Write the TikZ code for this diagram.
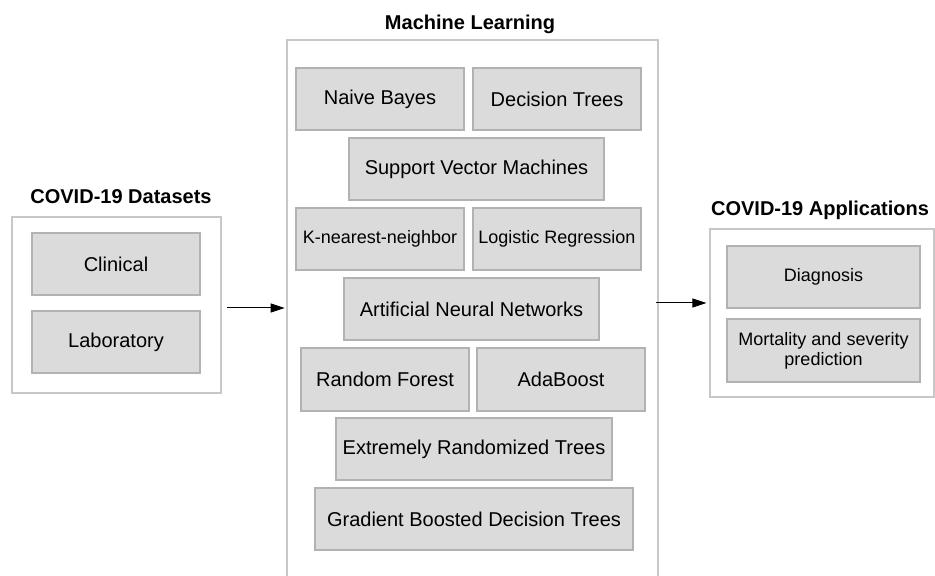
\documentclass[tikz,border=0pt]{standalone}
\usepackage{fontspec}
\setmainfont{Liberation Sans}
\usetikzlibrary{arrows.meta,calc}
\definecolor{boxfill}{RGB}{219,219,219}
\definecolor{boxline}{RGB}{178,178,178}
\definecolor{outline}{RGB}{200,200,200}
\tikzset{
  px/.style={x=0.5pt,y=-0.5pt},
  outerbox/.style={draw=outline,line width=0.6pt,fill=white,rectangle,inner sep=0pt},
  ibox/.style={draw=boxline,line width=0.6pt,fill=boxfill,rectangle,inner sep=0pt,
    minimum width=84pt,minimum height=31pt,font=\fontsize{10}{12}\selectfont,align=center},
  small/.style={font=\fontsize{9}{11}\selectfont},
  ttl/.style={font=\fontsize{10}{12}\selectfont\bfseries,inner sep=0pt},
  arr/.style={line width=0.5pt,-{Triangle[length=7pt,width=4.5pt]}}
}
\begin{document}
\begin{tikzpicture}[px]
\clip (0,0) rectangle (935,576);
\fill[white] (0,0) rectangle (935,576);
% left
\node[outerbox,minimum width=104.5pt,minimum height=88pt] (ds) at (116.5,305) {};
\node[ttl] (dst) at (121,197) {COVID-19 Datasets};
\node[ibox] (clin) at (116,264) {Clinical};
\node[ibox] (lab) at (116,342) {Laboratory};
% middle
\node[outerbox,minimum width=185.5pt,minimum height=280pt] (ml) at (472.5,320) {};
\node[ttl] (mlt) at (470,24) {Machine Learning};
\node[ibox] (nb) at (380,99) {Naive Bayes};
\node[ibox] (dt) at (557,99) {Decision Trees};
\node[ibox,minimum width=127.5pt] (svm) at (476.5,169) {Support Vector Machines};
\node[ibox,small] (knn) at (380,239) {K-nearest-neighbor};
\node[ibox,small] (lr) at (557,239) {Logistic Regression};
\node[ibox,minimum width=127.5pt] (ann) at (471.5,309) {Artificial Neural Networks};
\node[ibox,minimum height=31.5pt] (rf) at (385,379.5) {Random Forest};
\node[ibox,minimum height=31.5pt] (ada) at (561,379.5) {AdaBoost};
\node[ibox,minimum width=138pt] (ert) at (474,449) {Extremely Randomized Trees};
\node[ibox,minimum width=159pt] (gbdt) at (474,519) {Gradient Boosted Decision Trees};
% right
\node[outerbox,minimum width=112pt,minimum height=84pt] (app) at (822,313) {};
\node[ttl] (appt) at (820,210) {COVID-19 Applications};
\node[ibox,small,minimum width=96.5pt] (diag) at (823.5,277) {Diagnosis};
\node[ibox,small,minimum width=96.5pt,minimum height=31.5pt] (mort) at (823.5,350.5) {Mortality and severity\\[-1pt]prediction};
% arrows
\coordinate (a1) at ($(ds.east)+(5,3)$);
\coordinate (a2) at ($(ds.east)+(63,3)$);
\draw[arr] (a1) -- (a2);
\coordinate (b1) at ($(app.west)+(-53,-10)$);
\coordinate (b2) at ($(app.west)+(-3,-10)$);
\draw[arr] (b1) -- (b2);
\end{tikzpicture}
\end{document}
